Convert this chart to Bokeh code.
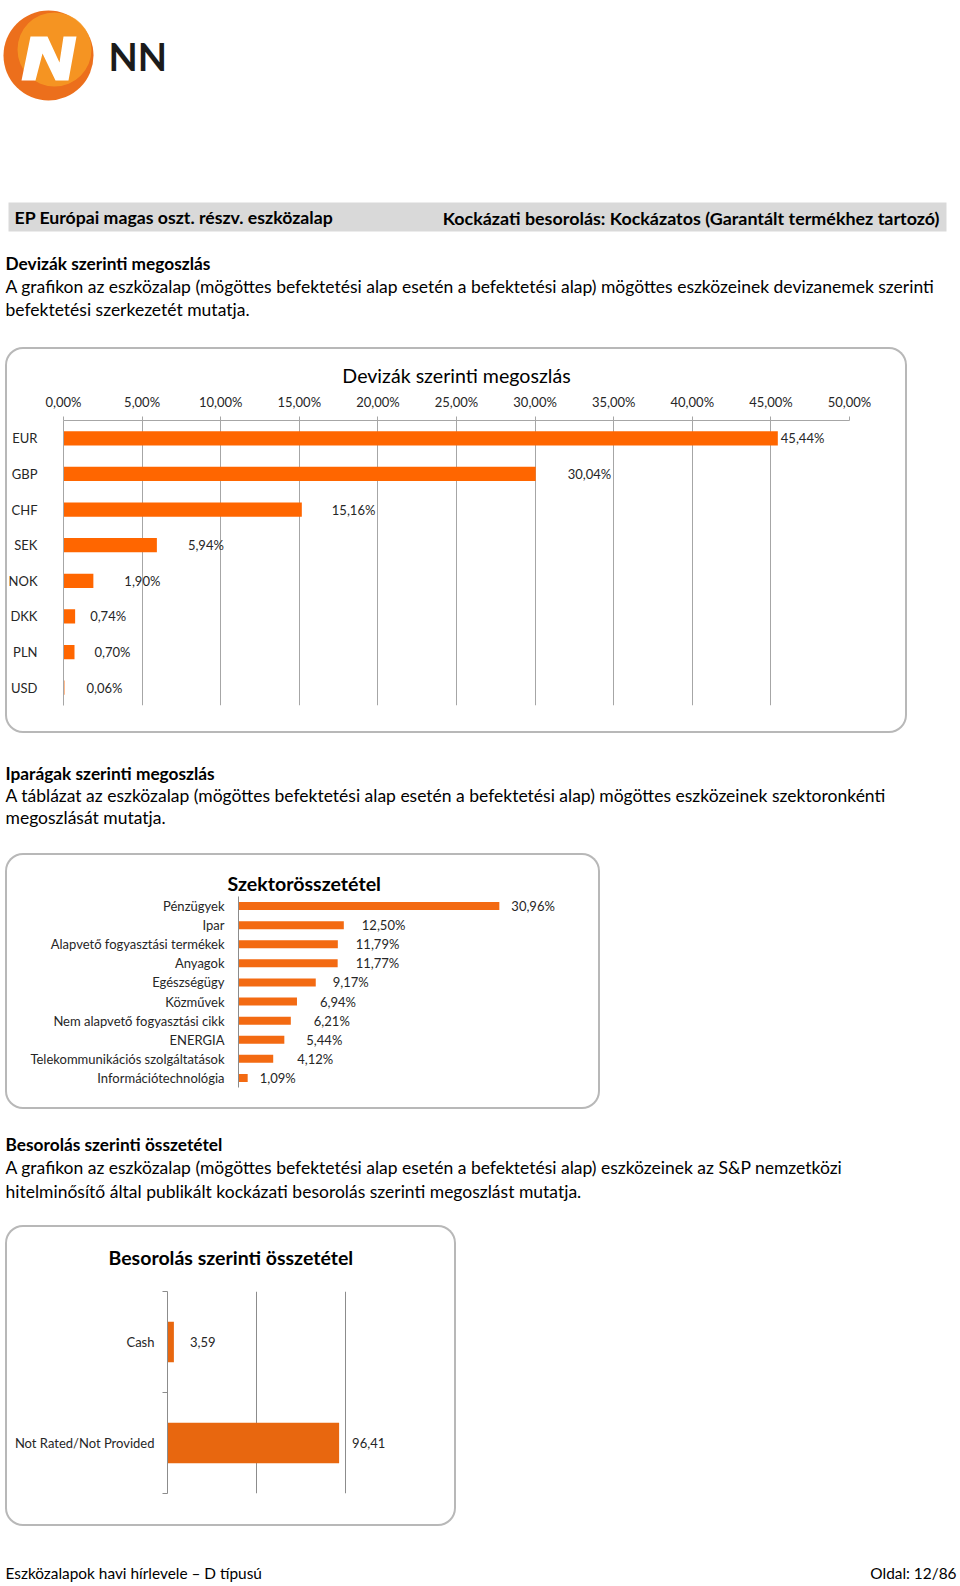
from bokeh.plotting import figure
from bokeh.models import (Range1d, FactorRange, FixedTicker, LinearAxis, Grid,
                          ColumnDataSource, Spacer)
from bokeh.layouts import column, row
from bokeh.embed import file_html
from bokeh.resources import INLINE
from bokeh.core.properties import value

FONT = "Lato"

# ---------------- data ----------------
currencies = ["EUR", "GBP", "CHF", "SEK", "NOK", "DKK", "PLN", "USD"]
currency_pct = [45.44, 30.04, 15.16, 5.94, 1.90, 0.74, 0.70, 0.06]
currency_ticks = [0, 5, 10, 15, 20, 25, 30, 35, 40, 45, 50]
currency_tick_labels = ["0,00%", "5,00%", "10,00%", "15,00%", "20,00%", "25,00%",
                        "30,00%", "35,00%", "40,00%", "45,00%", "50,00%"]

sectors = ["Pénzügyek", "Ipar", "Alapvető fogyasztási termékek", "Anyagok",
           "Egészségügy", "Közművek", "Nem alapvető fogyasztási cikk", "ENERGIA",
           "Telekommunikációs szolgáltatások", "Információtechnológia"]
sector_pct = [30.96, 12.50, 11.79, 11.77, 9.17, 6.94, 6.21, 5.44, 4.12, 1.09]

ratings = ["Cash", "Not Rated/Not Provided"]
rating_values = [3.59, 96.41]
rating_grid = [50, 100, 150]

# label offsets (px, style only)
currency_label_dx = [3, 32, 30, 31, 31, 15, 20, 22]
sector_label_dx = [12, 18, 18, 18, 17, 23, 23, 22, 24, 12]
rating_label_dx = [16, 13]

HEADER_LEFT = "EP Európai magas oszt. részv. eszközalap"
HEADER_RIGHT = "Kockázati besorolás: Kockázatos (Garantált termékhez tartozó)"
SEC1_TITLE = "Devizák szerinti megoszlás"
SEC1_LINES = ["A grafikon az eszközalap (mögöttes befektetési alap esetén a befektetési alap) mögöttes eszközeinek devizanemek szerinti",
              "befektetési szerkezetét mutatja."]
SEC2_TITLE = "Iparágak szerinti megoszlás"
SEC2_LINES = ["A táblázat az eszközalap (mögöttes befektetési alap esetén a befektetési alap) mögöttes eszközeinek szektoronkénti",
              "megoszlását mutatja."]
SEC3_TITLE = "Besorolás szerinti összetétel"
SEC3_LINES = ["A grafikon az eszközalap (mögöttes befektetési alap esetén a befektetési alap) eszközeinek az S&P nemzetközi",
              "hitelminősítő által publikált kockázati besorolás szerinti megoszlást mutatja."]
CHART1_TITLE = "Devizák szerinti megoszlás"
CHART2_TITLE = "Szektorösszetétel"
CHART3_TITLE = "Besorolás szerinti összetétel"
FOOTER_LEFT = "Eszközalapok havi hírlevele – D típusú"
FOOTER_RIGHT = "Oldal: 12/86"

W = 960
TEXT = "#000000"
LBL = "#262626"
GRID = "#a6a6a6"
BOX_STYLE = {"box-shadow": "inset 0 0 0 2px #b8b8b8", "border-radius": "18px",
             "background-color": "white"}


def fmt_pct(v):
    return f"{v:.2f}".replace(".", ",") + "%"


def fmt_num(v):
    return f"{v:.2f}".replace(".", ",")


def page_fig(y_top, y_bottom):
    p = figure(width=W, height=y_bottom - y_top, x_range=Range1d(0, W),
               y_range=Range1d(y_bottom, y_top), output_backend="svg",
               toolbar_location=None, min_border=0,
               x_axis_location=None, y_axis_location=None)
    p.frame_align = False
    p.grid.visible = False
    p.outline_line_color = None
    return p


def chart_fig(width, height, title, title_size, title_bold, title_align, title_offset,
              title_standoff, title_valign="bottom", **kw):
    p = figure(width=width, height=height, title=title, output_backend="svg",
               toolbar_location=None, styles=BOX_STYLE, **kw)
    p.frame_align = False
    p.border_fill_color = None
    p.background_fill_color = None
    p.outline_line_color = None
    p.title.align = title_align
    p.title.vertical_align = title_valign
    p.title.text_font = FONT
    p.title.text_font_size = f"{title_size}px"
    p.title.text_font_style = "bold" if title_bold else "normal"
    p.title.text_color = TEXT
    p.title.offset = title_offset
    p.title.standoff = title_standoff
    return p


def txt(p, x, y, s, size=16, bold=False, align="left", color=TEXT):
    p.text(x=[x], y=[y], text=[s], text_font=value(FONT), text_font_size=f"{size}px",
           text_font_style="bold" if bold else "normal", text_align=align,
           text_baseline="middle", text_color=color)


# ---------------- top of page ----------------
top = page_fig(0, 347)
top.circle(x=[48], y=[55], radius=45, fill_color="#ec6f1c", line_color=None)
top.circle(x=[54], y=[49], radius=37, fill_color="#f8a024", line_color=None, fill_alpha=0.75)
top.patch(x=[21, 30, 47, 59, 63, 76, 68, 55, 42, 35],
          y=[80, 36, 36, 62, 36, 36, 80, 80, 53, 80],
          fill_color="white", line_color=None)
txt(top, 108, 55, "NN", size=38, bold=True, color="#1b1b1b")
top.quad(left=[8], right=[946], top=[202], bottom=[231], fill_color="#d9d9d9", line_color=None)
txt(top, 14, 217, HEADER_LEFT, size=17.7, bold=True)
txt(top, 939, 217, HEADER_RIGHT, size=17.9, bold=True, align="right")
txt(top, 5, 263, SEC1_TITLE, size=17.3, bold=True)
txt(top, 5, 286, SEC1_LINES[0], size=17.5)
txt(top, 5, 308.5, SEC1_LINES[1], size=17.5)

# ---------------- chart 1 ----------------
c1_src = ColumnDataSource(dict(cat=currencies, val=currency_pct,
                               lab=[fmt_pct(v) for v in currency_pct],
                               dx=currency_label_dx))
p1 = chart_fig(902, 386, CHART1_TITLE, 19.6, False, "center", 0, 8,
               x_range=Range1d(0, 50), y_range=FactorRange(*reversed(currencies)),
               x_axis_location="above", min_border_left=57, min_border_right=58,
               min_border_top=73, min_border_bottom=28)
p1.hbar(y="cat", left=0, right="val", height=0.4, source=c1_src,
        fill_color="#ff6600", line_color=None)
p1.text(x="val", y="cat", text="lab", x_offset="dx", source=c1_src,
        text_font=value(FONT), text_font_size="13px", text_baseline="middle",
        text_color=LBL)
xa = p1.xaxis[0]
xa.ticker = FixedTicker(ticks=currency_ticks)
xa.major_label_overrides = {t: l for t, l in zip(currency_ticks, currency_tick_labels)}
xa.major_label_text_font = FONT
xa.major_label_text_font_size = "13px"
xa.major_label_text_color = LBL
xa.major_label_standoff = 7
xa.major_tick_out = 4
xa.major_tick_in = 0
xa.minor_tick_line_color = None
xa.axis_line_color = GRID
xa.major_tick_line_color = GRID
ya = p1.yaxis[0]
ya.major_tick_line_color = None
ya.minor_tick_line_color = None
ya.axis_line_color = GRID
ya.major_label_text_font = FONT
ya.major_label_text_font_size = "13px"
ya.major_label_text_color = LBL
ya.major_label_standoff = 20
p1.xgrid.ticker = FixedTicker(ticks=currency_ticks)
p1.xgrid.grid_line_color = GRID
p1.ygrid.visible = False

# ---------------- middle text 1 ----------------
mid1 = page_fig(733, 853)
txt(mid1, 5, 773, SEC2_TITLE, size=17.3, bold=True)
txt(mid1, 5, 795, SEC2_LINES[0], size=17.5)
txt(mid1, 5, 817, SEC2_LINES[1], size=17.5)

# ---------------- chart 2 ----------------
c2_src = ColumnDataSource(dict(cat=sectors, val=sector_pct,
                               lab=[fmt_pct(v) for v in sector_pct],
                               dx=sector_label_dx))
p2 = chart_fig(595, 256, CHART2_TITLE, 19.6, True, "left", -11, 3,
               x_range=Range1d(0, 40), y_range=FactorRange(*reversed(sectors)),
               x_axis_location=None, min_border_left=233, min_border_right=25,
               min_border_top=43, min_border_bottom=22)
p2.grid.visible = False
p2.hbar(y="cat", left=0, right="val", height=0.42, source=c2_src,
        fill_color="#f36a12", line_color=None)
p2.text(x="val", y="cat", text="lab", x_offset="dx", source=c2_src,
        text_font=value(FONT), text_font_size="13px", text_baseline="middle",
        text_color=LBL)
ya2 = p2.yaxis[0]
ya2.major_tick_line_color = None
ya2.minor_tick_line_color = None
ya2.axis_line_color = "#8c8c8c"
ya2.major_label_text_font = FONT
ya2.major_label_text_font_size = "13px"
ya2.major_label_text_color = LBL
ya2.major_label_standoff = 8

# ---------------- middle text 2 ----------------
mid2 = page_fig(1109, 1225)
txt(mid2, 5, 1144, SEC3_TITLE, size=17.3, bold=True)
txt(mid2, 5, 1167, SEC3_LINES[0], size=17.5)
txt(mid2, 5, 1190.5, SEC3_LINES[1], size=17.5)

# ---------------- chart 3 ----------------
n = len(ratings)
r_pos = [n - 0.5 - i for i in range(n)]
c3_src = ColumnDataSource(dict(pos=r_pos, val=rating_values,
                               lab=[fmt_num(v) for v in rating_values],
                               dx=rating_label_dx))
p3 = chart_fig(451, 301, CHART3_TITLE, 19.5, True, "left", -59, 41, "top",
               x_range=Range1d(0, 150), y_range=Range1d(0, n),
               x_axis_location=None, y_axis_location=None,
               min_border_left=162, min_border_right=22, min_border_top=65,
               min_border_bottom=33)
p3.grid.visible = False
p3.add_layout(Grid(dimension=0, ticker=FixedTicker(ticks=rating_grid),
                   grid_line_color="#8c8c8c", level="underlay"))
p3.hbar(y="pos", left=0, right="val", height=0.4, source=c3_src,
        fill_color="#e8670f", line_color=None)
p3.text(x="val", y="pos", text="lab", x_offset="dx", source=c3_src,
        text_font=value(FONT), text_font_size="13px", text_baseline="middle",
        text_color=LBL)
ya3 = LinearAxis(ticker=FixedTicker(ticks=r_pos, minor_ticks=list(range(n + 1))),
                 major_label_overrides={p: r for p, r in zip(r_pos, ratings)},
                 major_tick_out=0, major_tick_in=0, minor_tick_out=5, minor_tick_in=0,
                 axis_line_color="#8c8c8c", minor_tick_line_color="#8c8c8c",
                 major_label_text_font=FONT, major_label_text_font_size="13px",
                 major_label_text_color=LBL, major_label_standoff=8)
p3.add_layout(ya3, "left")

# ---------------- footer ----------------
foot = page_fig(1526, 1585)
txt(foot, 5, 1572, FOOTER_LEFT, size=15.4)
txt(foot, 956, 1572, FOOTER_RIGHT, size=15.4, align="right")

layout = column(top,
                row(Spacer(width=5, height=386), p1),
                mid1,
                row(Spacer(width=5, height=256), p2),
                mid2,
                row(Spacer(width=5, height=301), p3),
                foot, spacing=0)
open("out.html", "w").write(file_html(layout, INLINE))
